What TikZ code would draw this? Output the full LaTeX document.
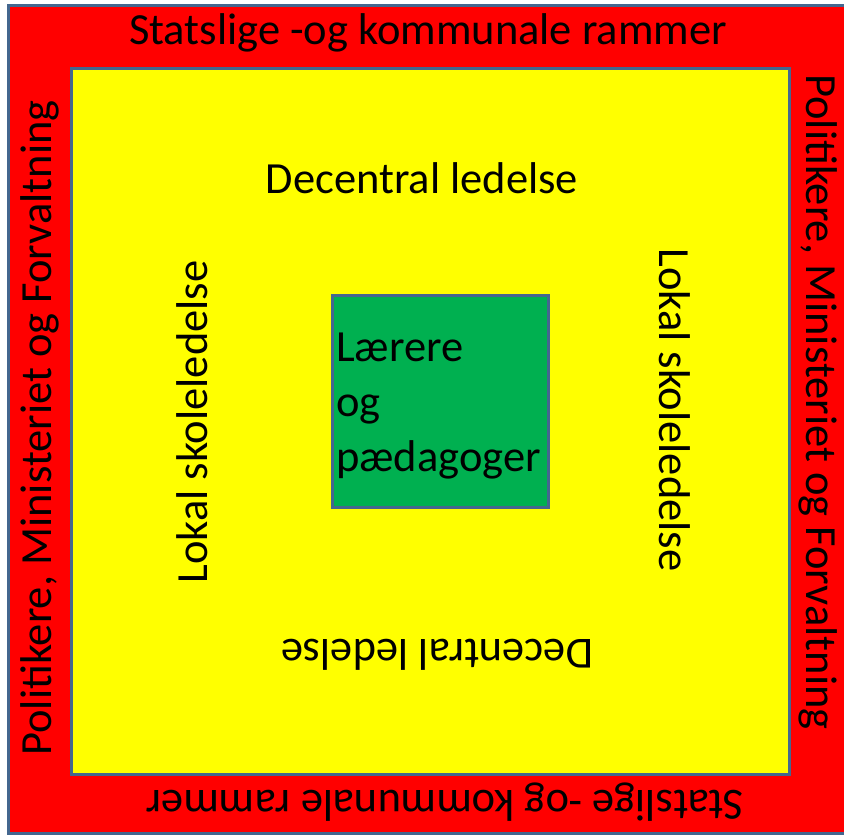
\documentclass[tikz,border=0pt]{standalone}
\usepackage{fontspec}
\setmainfont{Carlito}
\definecolor{rimblue}{HTML}{44678F}
\definecolor{boxred}{HTML}{FF0000}
\definecolor{boxyellow}{HTML}{FFFF00}
\definecolor{boxgreen}{HTML}{00B050}
\tikzset{
  panel/.style={draw=rimblue, line width=3pt},
  outertext/.style={font=\fontsize{44.5}{50}\selectfont, inner sep=0pt},
  innertext/.style={font=\fontsize{44.5}{50}\selectfont, inner sep=0pt},
}
\begin{document}
\begin{tikzpicture}[x=1pt,y=-1pt]
\useasboundingbox (0,0) rectangle (844,835);
\fill[white] (0,0) rectangle (844,835);
\draw[panel, fill=boxred] (8,5) rectangle (870,833);
\draw[panel, fill=boxyellow] (71,68) rectangle (789,774);
\draw[panel, fill=boxgreen] (332,295) rectangle (548,507);
\node[outertext] (top) at (428,33) {Statslige -og kommunale rammer};
\node[outertext, rotate=180] (bottom) at (445,802) {Statslige -og kommunale rammer};
\node[outertext, rotate=90] (left) at (40,428) {Politikere, Ministeriet og Forvaltning};
\node[outertext, rotate=-90] (right) at (818,402) {Politikere, Ministeriet og Forvaltning};
\node[innertext] (dtop) at (422,178) {Decentral ledelse};
\node[innertext, rotate=180] (dbot) at (437,655) {Decentral ledelse};
\node[innertext, rotate=90] (lleft) at (192,422) {Lokal skoleledelse};
\node[innertext, rotate=-90] (lright) at (675,410) {Lokal skoleledelse};
\node[innertext, anchor=north west, align=left, font=\fontsize{44.5}{55}\selectfont] (green) at (336,333) {Lærere\\og\\pædagoger};
\end{tikzpicture}
\end{document}
